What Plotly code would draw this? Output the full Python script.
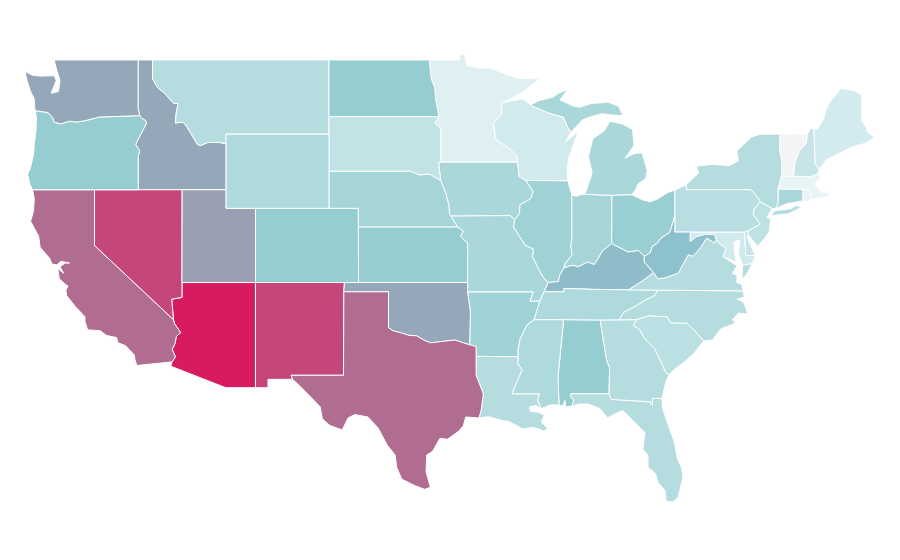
import plotly.graph_objects as go
from plotly.colors import sample_colorscale

# The Plotly state basemap needs an online file, so state outlines are given here as geographic data (lon, lat).
states = ["AL","AR","AZ","CA","CO","CT","DC","DE","FL","GA","IA","ID","IL","IN","KS","KY","LA","MA","MD","ME","MI","MN","MO","MS","MT","NC","ND","NE","NH","NJ","NM","NV","NY","OH","OK","OR","PA","RI","SC","SD","TN","TX","UT","VA","VT","WA","WI","WV","WY"]
values = [30,27,100,68,30,24,8,14,20,20,24,47,27,25,30,38,20,3,11,10,24,6,24,22,20,20,30,25,14,17,85,85,20,29,47,30,19,2,18,16,22,68,50,20,0,47,11,36,22]
colorscale = [[0,"#f2f4f6"],[0.03,"#e8f4f6"],[0.10,"#d3ebee"],[0.20,"#b5dde0"],[0.30,"#96cdd0"],[0.36,"#8dc1ce"],[0.38,"#8ebcc8"],[0.47,"#95a8b9"],[0.50,"#9a9fb4"],[0.68,"#b06c91"],[0.85,"#c5467b"],[1,"#d81b60"]]

outlines = {
"WA":[[(-124.73,48.38),(-124.2,48.17),(-123.7,48.13),(-123.1,48.15),(-122.75,48.15),(-122.6,47.9),(-122.95,47.2),(-122.45,47.3),(-122.35,47.9),(-122.55,48.4),(-122.75,49),(-117.03,49),(-117.04,46.4),(-116.92,46),(-119,45.93),(-119.7,45.92),(-120.6,45.73),(-121.2,45.65),(-121.7,45.7),(-122.3,45.55),(-122.75,45.65),(-122.85,45.9),(-123.15,46.15),(-123.4,46.2),(-124.05,46.27),(-124.1,46.9),(-124.35,47.3),(-124.6,47.9)]],
"OR":[[(-124.05,46.27),(-123.4,46.2),(-123.15,46.15),(-122.85,45.9),(-122.75,45.65),(-122.3,45.55),(-121.7,45.7),(-121.2,45.65),(-120.6,45.73),(-119.7,45.92),(-119,45.93),(-116.92,46),(-116.78,45.85),(-116.55,45.75),(-116.46,45.6),(-116.67,45.3),(-116.85,45),(-117.2,44.45),(-117.05,44.25),(-116.93,44.1),(-117.03,43.8),(-117.03,42),(-120,42),(-124.21,42),(-124.4,42.3),(-124.55,42.84),(-124.35,43.2),(-124.15,43.9),(-124.08,44.6),(-123.98,45.2),(-123.95,45.9)]],
"CA":[[(-124.21,42),(-120,42),(-120,39),(-114.63,35),(-114.57,34.8),(-114.14,34.3),(-114.43,34.1),(-114.53,33.7),(-114.72,33.4),(-114.5,33),(-114.72,32.72),(-117.12,32.53),(-117.25,32.85),(-117.3,33.1),(-117.9,33.6),(-118.4,33.75),(-118.5,34.03),(-119.2,34.15),(-119.6,34.4),(-120.47,34.45),(-120.65,34.9),(-120.65,35.15),(-121.3,35.7),(-121.9,36.3),(-121.95,36.6),(-121.8,36.8),(-122.05,36.95),(-122.4,37.2),(-122.5,37.75),(-122.1,37.5),(-122.35,37.85),(-122,38.05),(-121.7,38.05),(-122.3,38.15),(-122.55,37.95),(-122.9,38),(-123.05,38.3),(-123.7,38.9),(-123.8,39.5),(-124.35,40.3),(-124.15,40.85),(-124.1,41.5)]],
"ID":[[(-117.03,49),(-116.05,49),(-116.05,47.98),(-115.7,47.5),(-115.3,47.25),(-114.95,46.93),(-114.6,46.65),(-114.32,46.65),(-114.45,46.1),(-114.5,45.6),(-114,45.65),(-113.8,45.5),(-113.45,45.05),(-113,44.45),(-112.8,44.38),(-112.3,44.55),(-111.5,44.55),(-111.05,44.48),(-111.05,42),(-114.04,42),(-117.03,42),(-117.03,43.8),(-116.93,44.1),(-117.05,44.25),(-117.2,44.45),(-116.85,45),(-116.67,45.3),(-116.46,45.6),(-116.55,45.75),(-116.78,45.85),(-116.92,46),(-117.04,46.4)]],
"MT":[[(-116.05,49),(-104.05,49),(-104.05,45.94),(-104.05,45),(-111.05,45),(-111.05,44.48),(-111.5,44.55),(-112.3,44.55),(-112.8,44.38),(-113,44.45),(-113.45,45.05),(-113.8,45.5),(-114,45.65),(-114.5,45.6),(-114.45,46.1),(-114.32,46.65),(-114.6,46.65),(-114.95,46.93),(-115.3,47.25),(-115.7,47.5),(-116.05,47.98)]],
"WY":[[(-111.05,45),(-104.05,45),(-104.05,43),(-104.05,41),(-109.05,41),(-111.05,41),(-111.05,42),(-111.05,44.48)]],
"NV":[[(-120,42),(-117.03,42),(-114.04,42),(-114.05,37),(-114.05,36.2),(-114.75,36.1),(-114.63,35),(-120,39)]],
"UT":[[(-114.04,42),(-111.05,42),(-111.05,41),(-109.05,41),(-109.05,37),(-114.05,37)]],
"AZ":[[(-114.05,37),(-109.05,37),(-109.05,31.33),(-111.07,31.33),(-114.81,32.49),(-114.72,32.72),(-114.5,33),(-114.72,33.4),(-114.53,33.7),(-114.43,34.1),(-114.14,34.3),(-114.57,34.8),(-114.63,35),(-114.75,36.1),(-114.05,36.2)]],
"NM":[[(-109.05,37),(-103,37),(-103.04,36.5),(-103.06,32),(-106.62,32),(-106.53,31.78),(-108.2,31.78),(-108.2,31.33),(-109.05,31.33)]],
"CO":[[(-109.05,41),(-104.05,41),(-102.05,41),(-102.05,40),(-102.04,37),(-103,37),(-109.05,37)]],
"ND":[[(-104.05,49),(-97.23,49),(-97.1,48),(-96.85,47.5),(-96.8,46.9),(-96.56,45.94),(-104.05,45.94)]],
"SD":[[(-104.05,45.94),(-96.56,45.94),(-96.85,45.6),(-96.45,45.3),(-96.45,43.5),(-96.6,43.5),(-96.45,42.5),(-97.2,42.85),(-97.9,42.8),(-98.5,43),(-104.05,43)]],
"NE":[[(-104.05,43),(-98.5,43),(-97.9,42.8),(-97.2,42.85),(-96.45,42.5),(-96.1,41.8),(-95.9,41.2),(-95.85,40.7),(-95.31,40),(-102.05,40),(-102.05,41),(-104.05,41)]],
"KS":[[(-102.05,40),(-95.31,40),(-94.9,39.75),(-95.1,39.5),(-94.61,39.11),(-94.62,37),(-102.04,37)]],
"OK":[[(-103,37),(-94.62,37),(-94.62,36.5),(-94.43,35.4),(-94.48,33.64),(-95.5,33.9),(-96.5,33.8),(-97.15,33.75),(-97.6,33.9),(-98.1,34.13),(-98.6,34.15),(-99.2,34.3),(-99.7,34.4),(-100,34.56),(-100,36.5),(-103.04,36.5)]],
"TX":[[(-103.04,36.5),(-100,36.5),(-100,34.56),(-99.7,34.4),(-99.2,34.3),(-98.6,34.15),(-98.1,34.13),(-97.6,33.9),(-97.15,33.75),(-96.5,33.8),(-95.5,33.9),(-94.48,33.64),(-94.04,33.55),(-94.04,33.02),(-94.04,32),(-93.55,31),(-93.7,30.1),(-93.85,29.7),(-94.75,29.75),(-94.9,29.3),(-95.2,29),(-96,28.55),(-96.5,28.6),(-97,27.9),(-97.4,27.7),(-97.45,26.8),(-97.15,25.96),(-97.55,25.85),(-98.2,26.05),(-99.1,26.4),(-99.45,27.05),(-99.55,27.7),(-100.1,28.25),(-100.7,29.15),(-101.4,29.75),(-102.3,29.88),(-102.75,29.7),(-103.15,29.05),(-104,29.3),(-104.5,29.65),(-104.65,30.3),(-106,31.4),(-106.53,31.78),(-106.62,32),(-103.06,32)]],
"MN":[[(-97.23,49),(-95.15,49),(-95.15,49.3),(-94.82,49.3),(-94.66,48.7),(-93.8,48.55),(-93.1,48.57),(-92.3,48.3),(-91.86,48.19),(-91.05,48),(-89.7,47.98),(-90.8,47.3),(-92.2,46.7),(-92.29,46.66),(-92.29,46.1),(-92.85,45.6),(-92.75,45),(-92.75,44.75),(-91.9,44.3),(-91.25,43.85),(-91.22,43.5),(-96.45,43.5),(-96.45,45.3),(-96.85,45.6),(-96.56,45.94),(-96.8,46.9),(-96.85,47.5),(-97.1,48)]],
"IA":[[(-96.6,43.5),(-96.45,43.5),(-91.22,43.5),(-91.1,42.7),(-90.65,42.5),(-90.15,41.9),(-90.35,41.5),(-91.05,41.2),(-91.1,40.7),(-91.42,40.38),(-91.73,40.61),(-95.77,40.58),(-95.85,40.7),(-95.9,41.2),(-96.1,41.8),(-96.45,42.5)]],
"MO":[[(-95.77,40.58),(-91.73,40.61),(-91.42,40.38),(-91.5,40),(-91.1,39.5),(-90.7,39),(-90.15,38.8),(-90.2,38.4),(-89.9,37.9),(-89.5,37.3),(-89.15,37),(-89.42,36.5),(-89.7,36),(-90.37,36),(-90.15,36.5),(-94.62,36.5),(-94.62,37),(-94.61,39.11),(-95.1,39.5),(-94.9,39.75),(-95.31,40)]],
"AR":[[(-94.62,36.5),(-90.15,36.5),(-90.37,36),(-89.7,36),(-89.9,35.5),(-90.1,35),(-90.6,34.7),(-91.05,33.95),(-91.2,33.3),(-91.17,33),(-94.04,33.02),(-94.04,33.55),(-94.48,33.64),(-94.43,35.4)]],
"LA":[[(-94.04,33.02),(-91.17,33),(-91.2,32.6),(-90.9,32.3),(-91.6,31),(-89.73,31),(-89.85,30.65),(-89.6,30.2),(-90,30.38),(-90.4,30.3),(-90.35,30.05),(-89.8,30),(-89.4,29.85),(-89.6,29.5),(-89.15,29.1),(-89.45,29),(-90.15,29.2),(-90.85,29.1),(-91.8,29.5),(-92.2,29.55),(-93.2,29.77),(-93.85,29.7),(-93.7,30.1),(-93.55,31),(-94.04,32)]],
"WI":[[(-92.29,46.66),(-92.2,46.7),(-90.85,46.9),(-90.17,46.5),(-89.1,46.13),(-88.1,45.9),(-87.8,45.35),(-87.6,45.1),(-87.95,44.6),(-87.45,44.9),(-87.05,45.25),(-87.45,44.3),(-87.75,43.7),(-87.85,43),(-87.8,42.49),(-90.65,42.5),(-91.1,42.7),(-91.22,43.5),(-91.25,43.85),(-91.9,44.3),(-92.75,44.75),(-92.75,45),(-92.85,45.6),(-92.29,46.1)]],
"IL":[[(-90.65,42.5),(-87.8,42.49),(-87.53,41.7),(-87.53,39.35),(-87.6,39),(-87.5,38.5),(-88,38),(-88.05,37.8),(-88.35,37.4),(-88.45,37.05),(-89.15,37),(-89.5,37.3),(-89.9,37.9),(-90.2,38.4),(-90.15,38.8),(-90.7,39),(-91.1,39.5),(-91.5,40),(-91.42,40.38),(-91.1,40.7),(-91.05,41.2),(-90.35,41.5),(-90.15,41.9)]],
"IN":[[(-87.53,41.7),(-87.2,41.65),(-86.82,41.76),(-84.8,41.7),(-84.82,39.1),(-85.45,38.7),(-85.75,38.27),(-86,37.97),(-86.45,38.1),(-87.1,37.85),(-87.5,37.93),(-88.05,37.8),(-88,38),(-87.5,38.5),(-87.6,39),(-87.53,39.35)]],
"OH":[[(-84.8,41.7),(-83.45,41.73),(-82.7,41.45),(-82.2,41.35),(-81.7,41.5),(-81,41.85),(-80.52,41.98),(-80.52,40.64),(-80.65,40.25),(-80.87,39.7),(-81.45,39.4),(-81.75,39.1),(-82.05,38.95),(-82.2,38.6),(-82.6,38.42),(-83,38.73),(-83.7,38.65),(-84.25,38.85),(-84.82,39.1)]],
"MI":[[(-90.4,46.55),(-89.8,46.8),(-88.8,47),(-88.45,47.2),(-87.8,47.4),(-88.33,46.85),(-87.4,46.5),(-86.97,46.45),(-86.2,46.65),(-85.05,46.72),(-84.35,46.5),(-84.05,46),(-84.8,46.03),(-85.5,46.1),(-86.4,45.9),(-86.8,45.77),(-87.6,45.1),(-87.8,45.35),(-88.1,45.9),(-89.1,46.13)],
      [(-86.82,41.76),(-84.8,41.7),(-83.45,41.73),(-83.15,42.05),(-83.05,42.3),(-82.5,42.6),(-82.4,43.05),(-82.76,44),(-83.3,43.95),(-83.9,43.7),(-83.3,44.4),(-83.4,45.25),(-84.1,45.55),(-84.95,45.7),(-85.3,45.2),(-86.1,44.75),(-86.4,43.8),(-86.15,42.9),(-86.6,41.83)]],
"KY":[[(-84.82,39.1),(-84.25,38.85),(-83.7,38.65),(-83,38.73),(-82.6,38.42),(-82.6,38.1),(-81.97,37.54),(-82.7,37.1),(-83.68,36.6),(-86,36.63),(-88.07,36.68),(-88.07,36.5),(-89.42,36.5),(-89.15,37),(-88.45,37.05),(-88.35,37.4),(-88.05,37.8),(-87.5,37.93),(-87.1,37.85),(-86.45,38.1),(-86,37.97),(-85.75,38.27),(-85.45,38.7)]],
"TN":[[(-88.07,36.5),(-88.07,36.68),(-86,36.63),(-83.68,36.6),(-81.68,36.59),(-81.9,36.3),(-82.6,36.03),(-83.1,35.77),(-84,35.4),(-84.32,34.99),(-85.6,34.98),(-88.2,35),(-90.1,35),(-89.9,35.5),(-89.7,36),(-89.42,36.5)]],
"MS":[[(-90.1,35),(-88.2,35),(-88.1,34.9),(-88.47,31.9),(-88.4,30.4),(-89,30.4),(-89.6,30.2),(-89.85,30.65),(-89.73,31),(-91.6,31),(-90.9,32.3),(-91.2,32.6),(-91.17,33),(-91.2,33.3),(-91.05,33.95),(-90.6,34.7)]],
"AL":[[(-88.2,35),(-85.6,34.98),(-85.18,32.87),(-84.96,32.4),(-85,31),(-87.6,31),(-87.6,30.85),(-87.4,30.65),(-87.5,30.35),(-87.95,30.3),(-88,30.65),(-88.15,30.35),(-88.4,30.4),(-88.47,31.9),(-88.1,34.9)]],
"GA":[[(-85.6,34.98),(-84.32,34.99),(-83.1,35),(-83.35,34.7),(-82.9,34.45),(-82.55,33.95),(-81.9,33.45),(-81.4,32.6),(-81.1,32.1),(-80.9,32.05),(-81.15,31.6),(-81.4,30.75),(-82.05,30.75),(-82.05,30.37),(-82.2,30.57),(-84.86,30.7),(-85,31),(-84.96,32.4),(-85.18,32.87)]],
"FL":[[(-87.6,31),(-85,31),(-84.86,30.7),(-82.2,30.57),(-82.05,30.37),(-82.05,30.75),(-81.4,30.75),(-81.35,30.2),(-80.85,29.05),(-80.55,28.4),(-80.35,27.5),(-80.05,27),(-79.97,26.5),(-80.15,25.8),(-80.3,25.4),(-80.65,25.17),(-81.1,25.2),(-81.2,25.8),(-81.65,26.2),(-81.85,26.7),(-82.35,27.05),(-82.35,27.7),(-82.7,28),(-82.55,28.9),(-83.4,29.6),(-84.05,30.1),(-84.5,29.95),(-85.1,29.7),(-85.6,30.2),(-86.4,30.45),(-86.97,30.45),(-87.5,30.35),(-87.4,30.65),(-87.6,30.85)]],
"SC":[[(-83.1,35),(-82.3,35.2),(-81.05,35.15),(-80.8,34.82),(-79.67,34.8),(-78.55,33.86),(-79.2,33.2),(-79.9,32.7),(-80.65,32.25),(-80.9,32.05),(-81.1,32.1),(-81.4,32.6),(-81.9,33.45),(-82.55,33.95),(-82.9,34.45),(-83.35,34.7)]],
"NC":[[(-84.32,34.99),(-84,35.4),(-83.1,35.77),(-82.6,36.03),(-81.9,36.3),(-81.68,36.59),(-75.87,36.55),(-75.8,36.2),(-76.3,36.1),(-75.85,35.95),(-75.55,35.3),(-76.2,35.35),(-76.6,35),(-76.4,34.8),(-77.4,34.5),(-77.95,33.9),(-78.55,33.86),(-79.67,34.8),(-80.8,34.82),(-81.05,35.15),(-82.3,35.2),(-83.1,35)]],
"VA":[[(-83.68,36.6),(-82.7,37.1),(-81.97,37.54),(-81.68,37.2),(-81.2,37.25),(-80.3,37.5),(-79.95,38),(-79.6,38.5),(-79.3,38.42),(-78.85,38.8),(-78.35,39.4),(-77.83,39.13),(-77.72,39.32),(-77.5,39.1),(-77.05,38.84),(-77.25,38.4),(-76.3,37.9),(-76.6,37.5),(-76.3,37.4),(-76.3,37),(-75.97,36.9),(-75.87,36.55),(-81.68,36.59)],
      [(-75.9,37.95),(-75.65,37.95),(-75.25,38.03),(-75.6,37.5),(-75.95,37.15)]],
"WV":[[(-82.6,38.42),(-82.2,38.6),(-82.05,38.95),(-81.75,39.1),(-81.45,39.4),(-80.87,39.7),(-80.65,40.25),(-80.52,40.64),(-80.52,39.72),(-79.48,39.72),(-79.48,39.2),(-79.05,39.47),(-78.45,39.6),(-77.83,39.6),(-77.72,39.32),(-77.83,39.13),(-78.35,39.4),(-78.85,38.8),(-79.3,38.42),(-79.6,38.5),(-79.95,38),(-80.3,37.5),(-81.2,37.25),(-81.68,37.2),(-81.97,37.54),(-82.6,38.1)]],
"MD":[[(-79.48,39.72),(-75.79,39.72),(-75.7,38.46),(-75.05,38.45),(-75.25,38.03),(-75.65,37.95),(-75.9,37.95),(-76.2,38.5),(-76.1,39.3),(-76.5,39.2),(-76.45,38.6),(-76.35,38.1),(-77.25,38.4),(-77.05,38.84),(-77.5,39.1),(-77.72,39.32),(-77.83,39.6),(-78.45,39.6),(-79.05,39.47),(-79.48,39.2)]],
"DE":[[(-75.79,39.72),(-75.45,39.82),(-75.6,39.45),(-75.4,39.05),(-75.05,38.45),(-75.7,38.46)]],
"DC":[[(-77.12,38.93),(-77.04,39),(-76.91,38.89),(-77.04,38.79)]],
"PA":[[(-80.52,41.98),(-79.76,42.27),(-79.76,42),(-75.35,42),(-75.05,41.75),(-74.7,41.36),(-75.13,40.98),(-75.2,40.68),(-74.72,40.15),(-75.45,39.82),(-75.79,39.72),(-80.52,39.72)]],
"NJ":[[(-74.7,41.36),(-73.9,41),(-74.25,40.5),(-74,40.45),(-74.1,39.75),(-74.4,39.4),(-74.9,38.95),(-75.15,39.2),(-75.55,39.6),(-75.45,39.82),(-74.72,40.15),(-75.2,40.68),(-75.13,40.98)]],
"NY":[[(-79.76,42.27),(-78.9,42.9),(-79.05,43.27),(-78,43.37),(-76.8,43.3),(-76.2,43.55),(-76.3,44.1),(-75.3,44.85),(-74.7,45),(-73.35,45),(-73.4,44.2),(-73.25,43.6),(-73.27,42.75),(-73.5,42.05),(-73.5,41.3),(-73.65,41),(-73.9,41),(-74.7,41.36),(-75.05,41.75),(-75.35,42),(-79.76,42)],
      [(-74,40.6),(-73.7,40.88),(-72.6,40.98),(-72.3,41.15),(-71.87,41.07),(-72.8,40.7)]],
"CT":[[(-73.5,42.05),(-71.8,42.02),(-71.8,41.4),(-72.9,41.25),(-73.65,41),(-73.5,41.3)]],
"RI":[[(-71.8,42.02),(-71.38,42.02),(-71.2,41.5),(-71.5,41.37),(-71.8,41.4)]],
"MA":[[(-73.5,42.05),(-73.27,42.75),(-72.46,42.73),(-71.3,42.7),(-70.8,42.87),(-70.6,42.65),(-71,42.3),(-70.65,41.95),(-70,41.8),(-70.25,42.07),(-69.95,41.7),(-70.6,41.55),(-71.2,41.5),(-71.38,42.02),(-71.8,42.02)]],
"VT":[[(-73.35,45),(-71.5,45.01),(-71.6,44.5),(-72.05,44.1),(-72.35,43.5),(-72.46,42.73),(-73.27,42.75),(-73.25,43.6),(-73.4,44.2)]],
"NH":[[(-71.5,45.01),(-71.3,45.3),(-71.08,45.3),(-70.98,43.4),(-70.7,43.07),(-70.8,42.87),(-71.3,42.7),(-72.46,42.73),(-72.35,43.5),(-72.05,44.1),(-71.6,44.5)]],
"ME":[[(-71.08,45.3),(-70.85,45.25),(-70.4,45.8),(-70.25,46.3),(-70,46.7),(-69.23,47.46),(-69,47.43),(-68.3,47.35),(-67.8,47.07),(-67.8,45.7),(-67.45,45.3),(-67.45,45.15),(-66.95,44.82),(-67.6,44.5),(-68.5,44.3),(-69,44.1),(-69.8,43.75),(-70.25,43.6),(-70.7,43.07),(-70.98,43.4)]],
}

fig = go.Figure()
for state, value in zip(states, values):
    xs, ys = [], []
    for ring in outlines[state]:
        closed = ring + ring[:1]
        xs += [p[0] for p in closed] + [None]
        ys += [p[1] for p in closed] + [None]
    fig.add_trace(go.Scatter(x=xs, y=ys, mode="lines", fill="toself", name=state,
        fillcolor=sample_colorscale(colorscale, value / 100, colortype="rgb")[0],
        line=dict(color="white", width=1), hoveron="fills", text=f"{state}: {value}", hoverinfo="text"))

fig.update_xaxes(range=[-125.886, -64.66], visible=False)
fig.update_yaxes(range=[21.61, 51.80], visible=False)
fig.update_layout(width=900, height=560, margin=dict(l=0, r=0, t=0, b=0), showlegend=False,
    paper_bgcolor="white", plot_bgcolor="white")
fig.write_html("out.html")
